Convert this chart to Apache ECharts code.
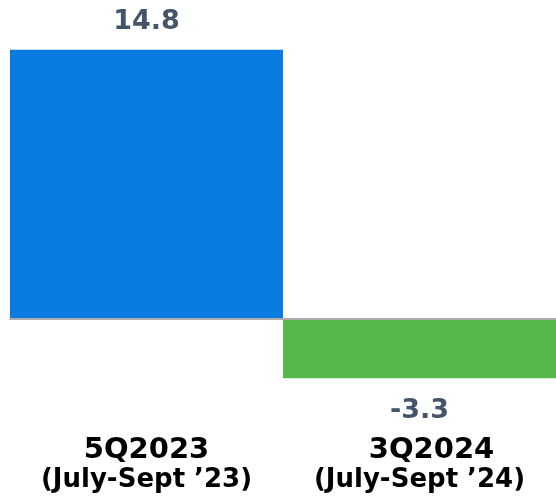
<!DOCTYPE html>
<html>
<head>
<meta charset="utf-8">
<script src="https://cdn.jsdelivr.net/npm/echarts@6/dist/echarts.min.js"></script>
<style>html,body{margin:0;padding:0;background:#fff;}#c{width:556px;height:502px;}</style>
</head>
<body>
<div id="c"></div>
<script>
const categories = ['5Q2023', '3Q2024'];
const periods = ['(July-Sept \u201923)', '(July-Sept \u201924)'];
const values = [14.8, -3.3];
const barColors = ['#0a7be0', '#54b84a'];

const chart = echarts.init(document.getElementById('c'), null, {renderer: 'canvas'});
const FONT = '"DejaVu Sans", sans-serif';
chart.setOption({
  animation: false,
  grid: {left: 10, right: -2, top: 46, bottom: 93},
  xAxis: [
    {
      type: 'category', data: categories, z: 5,
      axisLine: {onZero: true, lineStyle: {color: '#acacac', width: 2}},
      axisTick: {show: false}, axisLabel: {show: false}
    },
    {
      type: 'category', data: categories, position: 'bottom',
      axisLine: {show: false, onZero: false}, axisTick: {show: false},
      axisLabel: {
        margin: 26,
        interval: 0,
        formatter: function (v, i) {
          return (i === 1 ? '{c|' : '{a|') + v + '}\n{b|' + periods[i] + '}';
        },
        rich: {
          a: {fontFamily: FONT, fontWeight: 'bold', fontSize: 29, color: '#000', lineHeight: 30},
          c: {fontFamily: FONT, fontWeight: 'bold', fontSize: 29, color: '#000', lineHeight: 30, padding: [0, 0, 0, 24]},
          b: {fontFamily: FONT, fontWeight: 'bold', fontSize: 26, color: '#000', lineHeight: 30}
        }
      }
    }
  ],
  yAxis: {
    type: 'value', min: -5, max: 15,
    show: false, splitLine: {show: false}
  },
  series: [{
    type: 'bar',
    xAxisIndex: 0,
    barCategoryGap: 0,
    barWidth: '100%',
    data: values.map((v, i) => ({
      value: v,
      itemStyle: {color: barColors[i]},
      label: {position: v >= 0 ? 'top' : 'bottom', distance: v >= 0 ? 14 : 19}
    })),
    label: {
      show: true,
      fontFamily: FONT, fontWeight: 'bold', fontSize: 27, color: '#44546a',
      formatter: p => p.value.toFixed(1)
    }
  }]
});
</script>
</body>
</html>
